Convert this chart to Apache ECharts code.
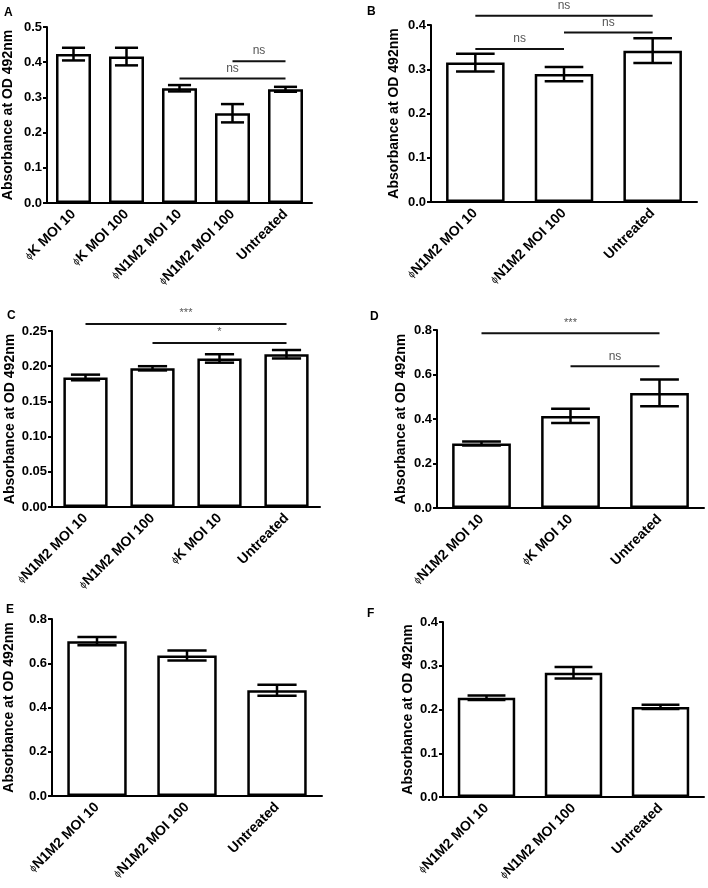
<!DOCTYPE html>
<html>
<head>
<meta charset="utf-8">
<script src="https://cdn.jsdelivr.net/npm/echarts@6/dist/echarts.min.js"></script>
<style>
html,body{margin:0;padding:0;background:#fff;}
#chart{width:708px;height:888px;}
</style>
</head>
<body>
<div id="chart"></div>
<script>
// ---- Data ----
var catsA = ['ϕK MOI 10', 'ϕK MOI 100', 'ϕN1M2 MOI 10', 'ϕN1M2 MOI 100', 'Untreated'];
var meanA = [0.423, 0.416, 0.326, 0.255, 0.323];
var sdA = [0.018, 0.025, 0.009, 0.026, 0.007];
var sigA = [[3, 4, 0.403, 'ns'], [2, 4, 0.354, 'ns']];

var catsB = ['ϕN1M2 MOI 10', 'ϕN1M2 MOI 100', 'Untreated'];
var meanB = [0.315, 0.289, 0.342];
var sdB = [0.020, 0.016, 0.028];
var sigB = [[0, 2, 0.421, 'ns'], [1, 2, 0.383, 'ns'], [0, 1, 0.346, 'ns']];

var catsC = ['ϕN1M2 MOI 10', 'ϕN1M2 MOI 100', 'ϕK MOI 10', 'Untreated'];
var meanC = [0.184, 0.197, 0.211, 0.217];
var sdC = [0.004, 0.003, 0.006, 0.006];
var sigC = [[0, 3, 0.260, '***'], [1, 3, 0.233, '*']];

var catsD = ['ϕN1M2 MOI 10', 'ϕK MOI 10', 'Untreated'];
var meanD = [0.290, 0.414, 0.517];
var sdD = [0.009, 0.032, 0.060];
var sigD = [[0, 2, 0.785, '***'], [1, 2, 0.637, 'ns']];

var catsE = ['ϕN1M2 MOI 10', 'ϕN1M2 MOI 100', 'Untreated'];
var meanE = [0.700, 0.635, 0.478];
var sdE = [0.019, 0.023, 0.025];
var sigE = [];

var catsF = ['ϕN1M2 MOI 10', 'ϕN1M2 MOI 100', 'Untreated'];
var meanF = [0.227, 0.284, 0.206];
var sdF = [0.005, 0.013, 0.005];
var sigF = [];

var yMaxes = [0.5, 0.4, 0.25, 0.8, 0.8, 0.4];
var yIntervals = [0.1, 0.1, 0.05, 0.2, 0.2, 0.1];
var yDecimals = [1, 1, 2, 1, 1, 1];
var panelLabels = ['A', 'B', 'C', 'D', 'E', 'F'];
var yTitle = 'Absorbance at OD 492nm';

// ---- Layout (pixels) ----
var grids = [
  {left: 47, top: 27, width: 265, height: 176},
  {left: 431, top: 25, width: 266, height: 177},
  {left: 52, top: 331, width: 268, height: 176},
  {left: 437, top: 330, width: 267, height: 178},
  {left: 52, top: 619, width: 270, height: 177},
  {left: 443, top: 622, width: 261, height: 175}
];
var nameGaps = [32, 30, 35, 29, 36, 28];
var labelPos = [[4, 7], [367, 6], [7, 310], [370, 311], [6, 604], [367, 608]];

var panels = [
  {cats: catsA, mean: meanA, sd: sdA, sig: sigA},
  {cats: catsB, mean: meanB, sd: sdB, sig: sigB},
  {cats: catsC, mean: meanC, sd: sdC, sig: sigC},
  {cats: catsD, mean: meanD, sd: sdD, sig: sigD},
  {cats: catsE, mean: meanE, sd: sdE, sig: sigE},
  {cats: catsF, mean: meanF, sd: sdF, sig: sigF}
];

var FONT = '"Liberation Sans", Arial, Helvetica, sans-serif';
var BAR_FRAC = 0.66;

function errRender(params, api) {
  var i = api.value(0), m = api.value(1), s = api.value(2);
  var top = api.coord([i, m + s]);
  var bot = api.coord([i, m - s]);
  var band = api.size([1, 0])[0];
  var hw = band * BAR_FRAC * 0.33;
  var st = {stroke: '#000', lineWidth: 2.5};
  return {
    type: 'group',
    children: [
      {type: 'line', shape: {x1: top[0], y1: top[1], x2: bot[0], y2: bot[1]}, style: st},
      {type: 'line', shape: {x1: top[0] - hw, y1: top[1], x2: top[0] + hw, y2: top[1]}, style: st},
      {type: 'line', shape: {x1: bot[0] - hw, y1: bot[1], x2: bot[0] + hw, y2: bot[1]}, style: st}
    ]
  };
}

function sigRender(params, api) {
  var a = api.coord([api.value(0), api.value(2)]);
  var b = api.coord([api.value(1), api.value(2)]);
  var txt = params.context.sigText[params.dataIndex];
  var isStar = txt.indexOf('*') >= 0;
  return {
    type: 'group',
    children: [
      {type: 'line', shape: {x1: a[0], y1: a[1], x2: b[0], y2: b[1]}, style: {stroke: '#111', lineWidth: 2}},
      {type: 'text', x: (a[0] + b[0]) / 2, y: a[1] - (isStar ? 5 : 4),
        style: {text: txt, fill: '#555', font: (isStar ? '11px ' : '12px ') + FONT,
          textAlign: 'center', textVerticalAlign: 'bottom'}}
    ]
  };
}

var option = {
  animation: false,
  backgroundColor: '#fff',
  title: [],
  grid: [],
  xAxis: [],
  yAxis: [],
  series: []
};

panels.forEach(function (p, k) {
  option.title.push({
    text: panelLabels[k], left: labelPos[k][0], top: labelPos[k][1], padding: 0,
    textStyle: {fontFamily: FONT, fontSize: 12, fontWeight: 'bold', color: '#000'}
  });
  option.grid.push(Object.assign({containLabel: false}, grids[k]));
  option.xAxis.push({
    type: 'category', gridIndex: k, data: p.cats,
    axisLine: {lineStyle: {color: '#000', width: 2}},
    axisTick: {alignWithLabel: true, length: 5, lineStyle: {color: '#000', width: 2}},
    axisLabel: {
      rotate: 45, interval: 0, margin: 9, color: '#000',
      fontFamily: FONT, fontSize: 14, fontWeight: 'bold',
      formatter: function (v) {
        if (v.charAt(0) === 'ϕ') return '{p|ϕ}' + v.slice(1);
        return v;
      },
      rich: {p: {fontSize: 10, fontFamily: FONT, fontWeight: 'normal', color: '#000'}}
    },
    splitLine: {show: false}
  });
  option.yAxis.push({
    type: 'value', gridIndex: k, min: 0, max: yMaxes[k], interval: yIntervals[k],
    name: yTitle, nameLocation: 'middle', nameRotate: 90, nameGap: nameGaps[k],
    nameTextStyle: {fontFamily: FONT, fontSize: 14, fontWeight: 'bold', color: '#000'},
    axisLine: {show: true, lineStyle: {color: '#000', width: 2}},
    axisTick: {show: true, length: 4, lineStyle: {color: '#000', width: 2}},
    axisLabel: {
      margin: 5, color: '#000', fontFamily: FONT, fontSize: 13, fontWeight: 'bold',
      formatter: (function (d) { return function (v) { return v.toFixed(d); }; })(yDecimals[k])
    },
    splitLine: {show: false}
  });
  option.series.push({
    type: 'bar', xAxisIndex: k, yAxisIndex: k, data: p.mean,
    barWidth: (BAR_FRAC * 100) + '%',
    itemStyle: {color: '#fff', borderColor: '#000', borderWidth: 2.5},
    z: 2
  });
  option.series.push({
    type: 'custom', xAxisIndex: k, yAxisIndex: k,
    data: p.mean.map(function (m, i) { return [i, m, p.sd[i]]; }),
    renderItem: errRender, z: 5, clip: false
  });
  if (p.sig.length) {
    var sigText = p.sig.map(function (s) { return s[3]; });
    option.series.push({
      type: 'custom', xAxisIndex: k, yAxisIndex: k,
      data: p.sig.map(function (s) { return [s[0], s[1], s[2]]; }),
      renderItem: function (params, api) {
        params.context.sigText = sigText;
        return sigRender(params, api);
      },
      z: 6, clip: false
    });
  }
});

var chart = echarts.init(document.getElementById('chart'), null, {renderer: 'canvas'});
chart.setOption(option);
</script>
</body>
</html>
